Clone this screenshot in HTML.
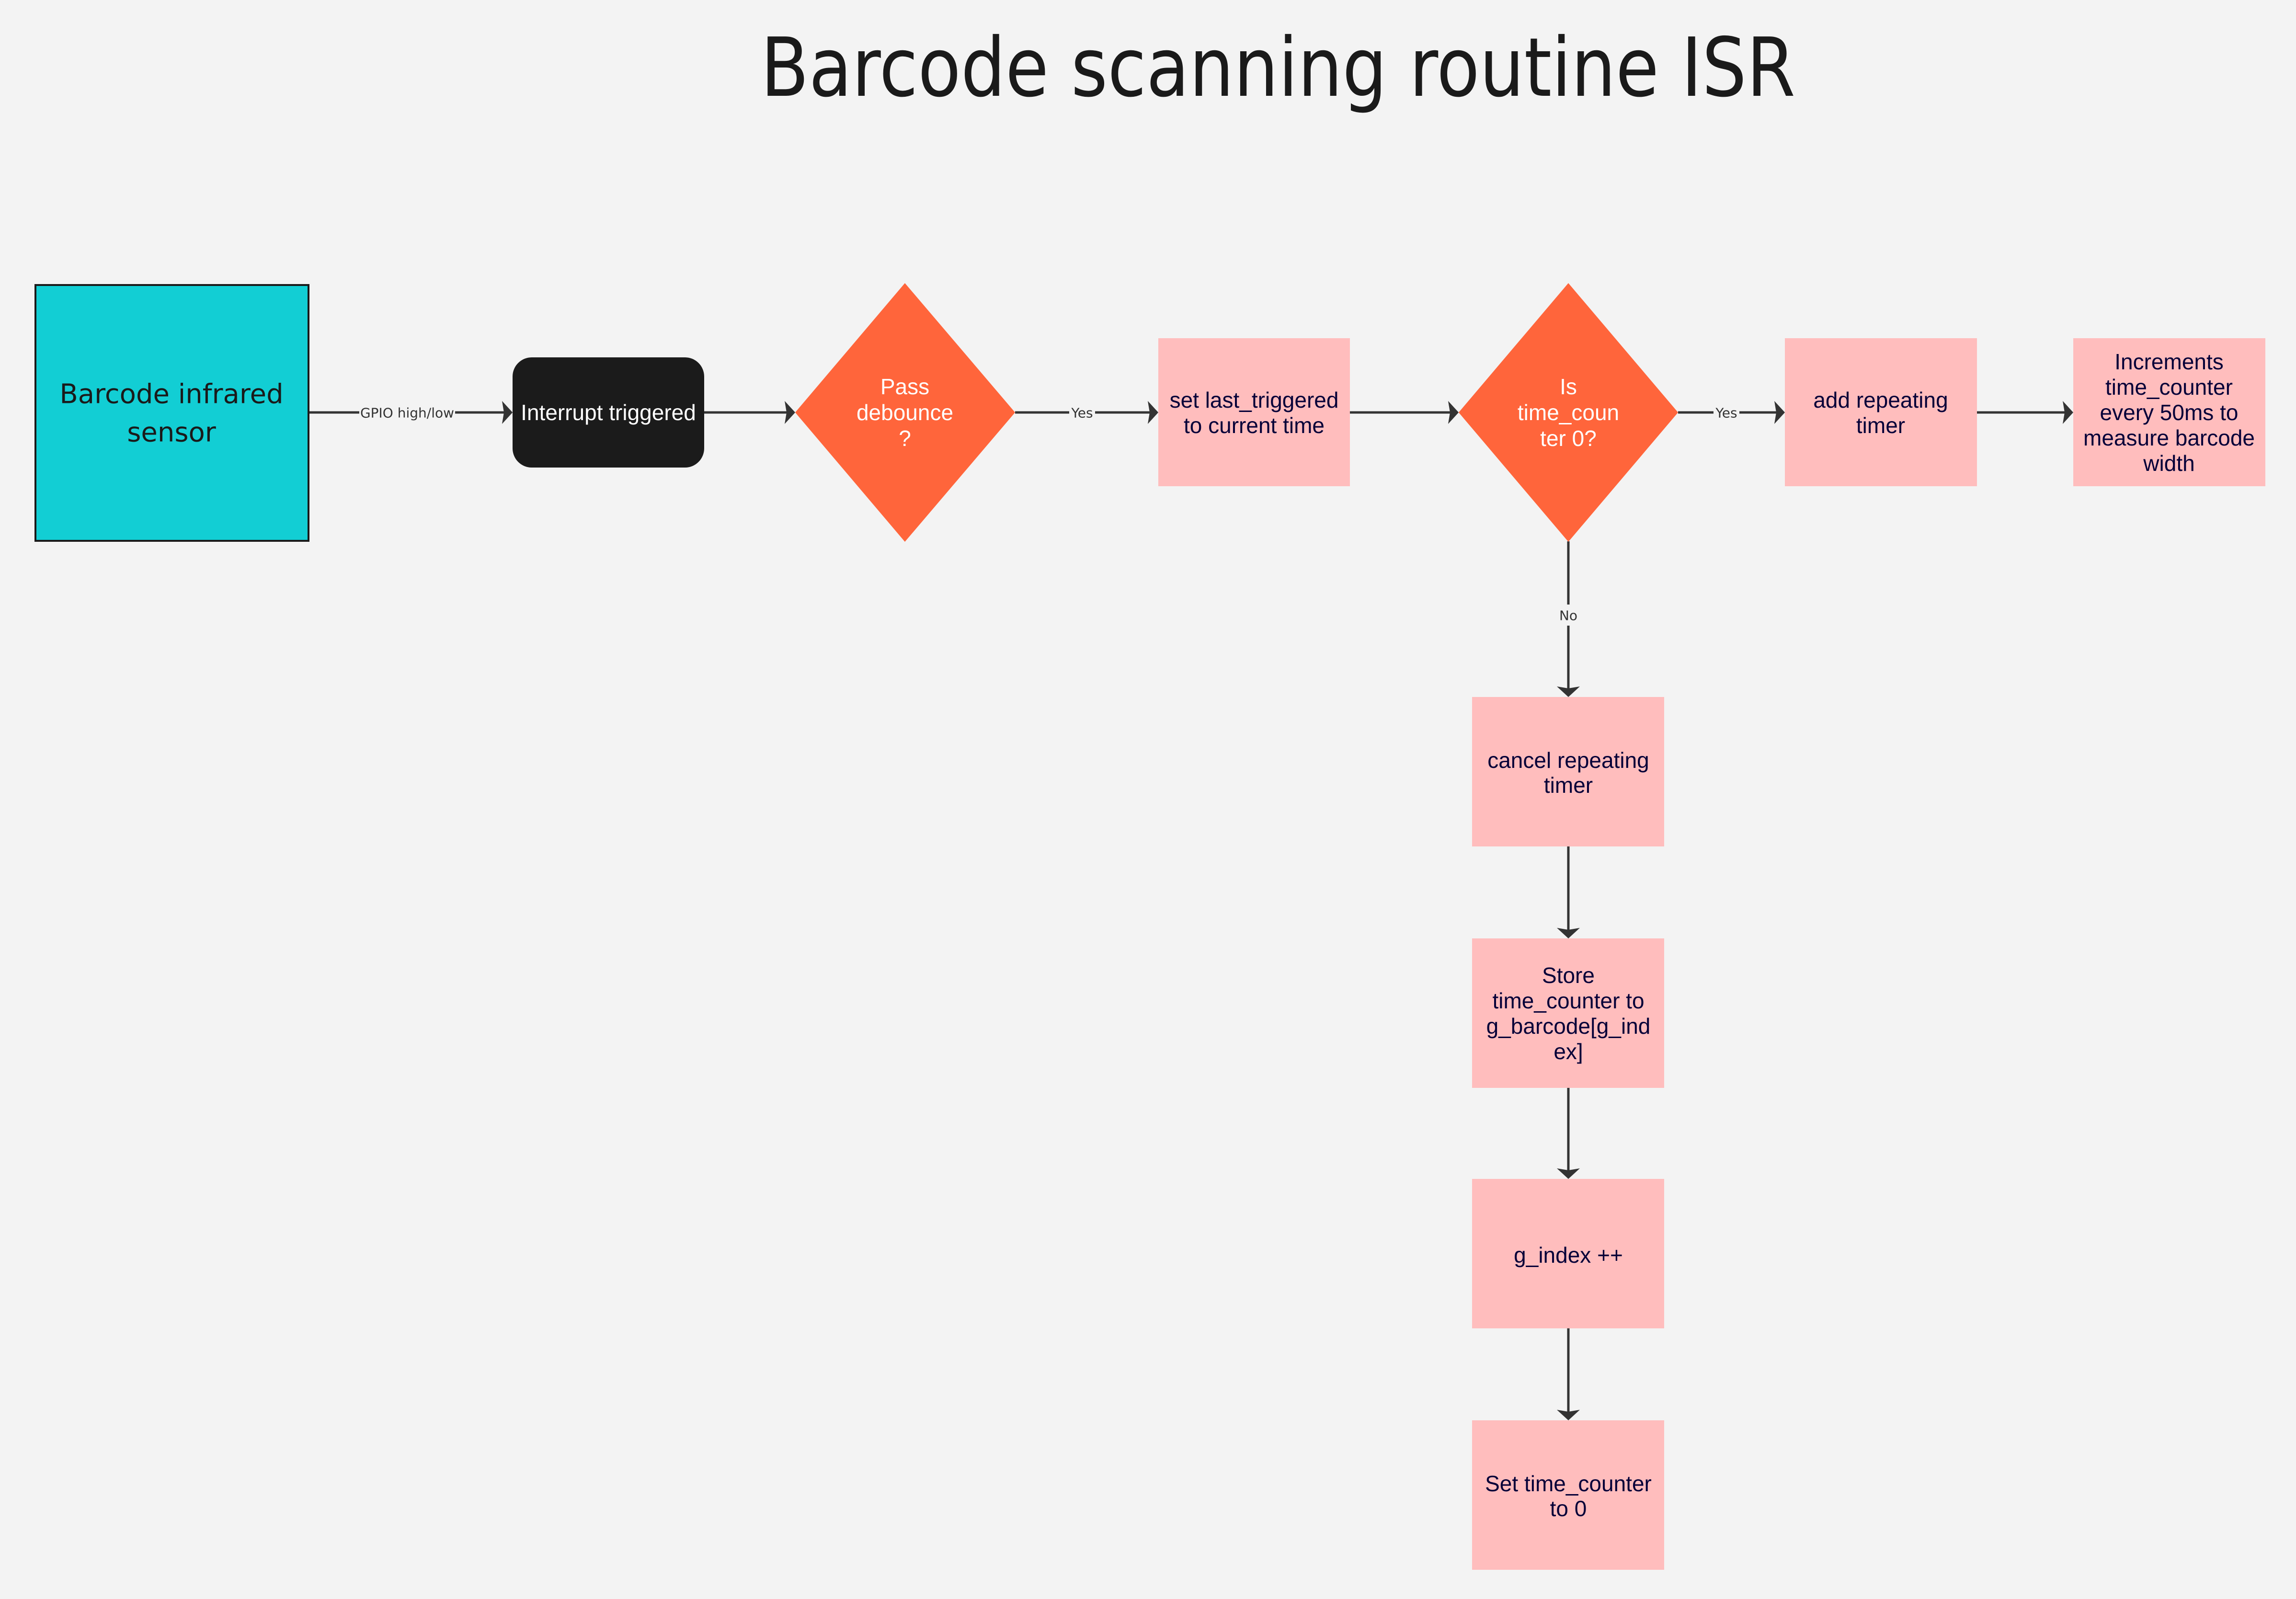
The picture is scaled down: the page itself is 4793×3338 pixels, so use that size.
<!DOCTYPE html>
<html><head><meta charset="utf-8"><style>
html,body{margin:0;padding:0;background:#f3f3f3;}
svg{display:block;}
text{font-family:"Liberation Sans",Arial,sans-serif;}
.dv{font-family:"DejaVu Sans","Liberation Sans",sans-serif;}
</style></head><body>
<svg width="4793" height="3338" viewBox="0 0 4793 3338" xmlns="http://www.w3.org/2000/svg">
<defs>
<marker id="a" markerWidth="12" markerHeight="12" refX="10" refY="6" orient="auto" markerUnits="userSpaceOnUse" viewBox="0 0 12 12">
</marker>
</defs>
<rect width="4793" height="3338" fill="#f3f3f3"/>
<text class="dv" x="2668" y="142" font-size="170" fill="#1a1a1a" text-anchor="middle" dominant-baseline="central" textLength="2160" lengthAdjust="spacingAndGlyphs">Barcode scanning routine ISR</text>

<g stroke="#333" stroke-width="5" fill="none">
<line x1="645" y1="861" x2="1060" y2="861"/>
<line x1="1470" y1="861" x2="1650" y2="861"/>
<line x1="2119" y1="861" x2="2408" y2="861"/>
<line x1="2818" y1="861" x2="3035" y2="861"/>
<line x1="3503" y1="861" x2="3716" y2="861"/>
<line x1="4127" y1="861" x2="4318" y2="861"/>
<line x1="3274" y1="1130" x2="3274" y2="1445"/>
<line x1="3274" y1="1767" x2="3274" y2="1949"/>
<line x1="3274" y1="2271" x2="3274" y2="2451"/>
<line x1="3274" y1="2773" x2="3274" y2="2955"/>
</g>
<g fill="#333">
<path d="M1070 861 l-22 -24 l4 24 l-4 24z"/>
<path d="M1660 861 l-22 -24 l4 24 l-4 24z"/>
<path d="M2418 861 l-22 -24 l4 24 l-4 24z"/>
<path d="M3045 861 l-22 -24 l4 24 l-4 24z"/>
<path d="M3726 861 l-22 -24 l4 24 l-4 24z"/>
<path d="M4328 861 l-22 -24 l4 24 l-4 24z"/>
<path d="M3274 1455 l-24 -22 l24 4 l24 -4z"/>
<path d="M3274 1959 l-24 -22 l24 4 l24 -4z"/>
<path d="M3274 2461 l-24 -22 l24 4 l24 -4z"/>
<path d="M3274 2965 l-24 -22 l24 4 l24 -4z"/>
</g>
<!-- edge labels -->
<rect x="750" y="840" width="200" height="42" fill="#f3f3f3"/>
<text class="dv" x="850" y="862" font-size="28" fill="#333" text-anchor="middle" dominant-baseline="central">GPIO high/low</text>
<rect x="2232" y="840" width="54" height="42" fill="#f3f3f3"/>
<text class="dv" x="2259" y="862" font-size="28" fill="#333" text-anchor="middle" dominant-baseline="central">Yes</text>
<rect x="3577" y="840" width="54" height="42" fill="#f3f3f3"/>
<text class="dv" x="3604" y="862" font-size="28" fill="#333" text-anchor="middle" dominant-baseline="central">Yes</text>
<rect x="3252" y="1262" width="44" height="44" fill="#f3f3f3"/>
<text class="dv" x="3274" y="1285" font-size="28" fill="#333" text-anchor="middle" dominant-baseline="central">No</text>

<!-- nodes -->
<rect x="74" y="595" width="570" height="534" fill="#12ced4" stroke="#1a1a1a" stroke-width="4"/>
<g class="dv" font-size="56" fill="#1a1a1a" text-anchor="middle">
<text class="dv" x="358" y="823" dominant-baseline="central">Barcode infrared</text>
<text class="dv" x="358" y="903" dominant-baseline="central">sensor</text>
</g>
<rect x="1070" y="746" width="400" height="230" rx="40" fill="#1b1b1b"/>
<text x="1270" y="861" font-size="46" fill="#fff" text-anchor="middle" dominant-baseline="central">Interrupt triggered</text>

<polygon points="1889,591 2119,861 1889,1131 1660,861" fill="#ff653b"/>
<g font-size="46" fill="#fff" text-anchor="middle">
<text x="1889" y="807" dominant-baseline="central">Pass</text>
<text x="1889" y="861" dominant-baseline="central">debounce</text>
<text x="1889" y="915" dominant-baseline="central">?</text>
</g>
<rect x="2418" y="706" width="400" height="309" fill="#ffbdbd"/>
<g font-size="46" fill="#050038" text-anchor="middle">
<text x="2618" y="835" dominant-baseline="central">set last_triggered</text>
<text x="2618" y="888" dominant-baseline="central">to current time</text>
</g>
<polygon points="3274,591 3503,861 3274,1131 3045,861" fill="#ff653b"/>
<g font-size="46" fill="#fff" text-anchor="middle">
<text x="3274" y="807" dominant-baseline="central">Is</text>
<text x="3274" y="861" dominant-baseline="central">time_coun</text>
<text x="3274" y="915" dominant-baseline="central">ter 0?</text>
</g>
<rect x="3726" y="706" width="401" height="309" fill="#ffbdbd"/>
<g font-size="46" fill="#050038" text-anchor="middle">
<text x="3926" y="835" dominant-baseline="central">add repeating</text>
<text x="3926" y="888" dominant-baseline="central">timer</text>
</g>
<rect x="4328" y="706" width="401" height="309" fill="#ffbdbd"/>
<g font-size="46" fill="#050038" text-anchor="middle">
<text x="4528" y="755" dominant-baseline="central">Increments</text>
<text x="4528" y="808" dominant-baseline="central">time_counter</text>
<text x="4528" y="861" dominant-baseline="central">every 50ms to</text>
<text x="4528" y="914" dominant-baseline="central">measure barcode</text>
<text x="4528" y="967" dominant-baseline="central">width</text>
</g>
<rect x="3073" y="1455" width="401" height="312" fill="#ffbdbd"/>
<g font-size="46" fill="#050038" text-anchor="middle">
<text x="3274" y="1587" dominant-baseline="central">cancel repeating</text>
<text x="3274" y="1639" dominant-baseline="central">timer</text>
</g>
<rect x="3073" y="1959" width="401" height="312" fill="#ffbdbd"/>
<g font-size="46" fill="#050038" text-anchor="middle">
<text x="3274" y="2036" dominant-baseline="central">Store</text>
<text x="3274" y="2089" dominant-baseline="central">time_counter to</text>
<text x="3274" y="2142" dominant-baseline="central">g_barcode[g_ind</text>
<text x="3274" y="2195" dominant-baseline="central">ex]</text>
</g>
<rect x="3073" y="2461" width="401" height="312" fill="#ffbdbd"/>
<text x="3274" y="2620" font-size="46" fill="#050038" text-anchor="middle" dominant-baseline="central">g_index ++</text>
<rect x="3073" y="2965" width="401" height="312" fill="#ffbdbd"/>
<g font-size="46" fill="#050038" text-anchor="middle">
<text x="3274" y="3097" dominant-baseline="central">Set time_counter</text>
<text x="3274" y="3149" dominant-baseline="central">to 0</text>
</g>
</svg>
</body></html>
